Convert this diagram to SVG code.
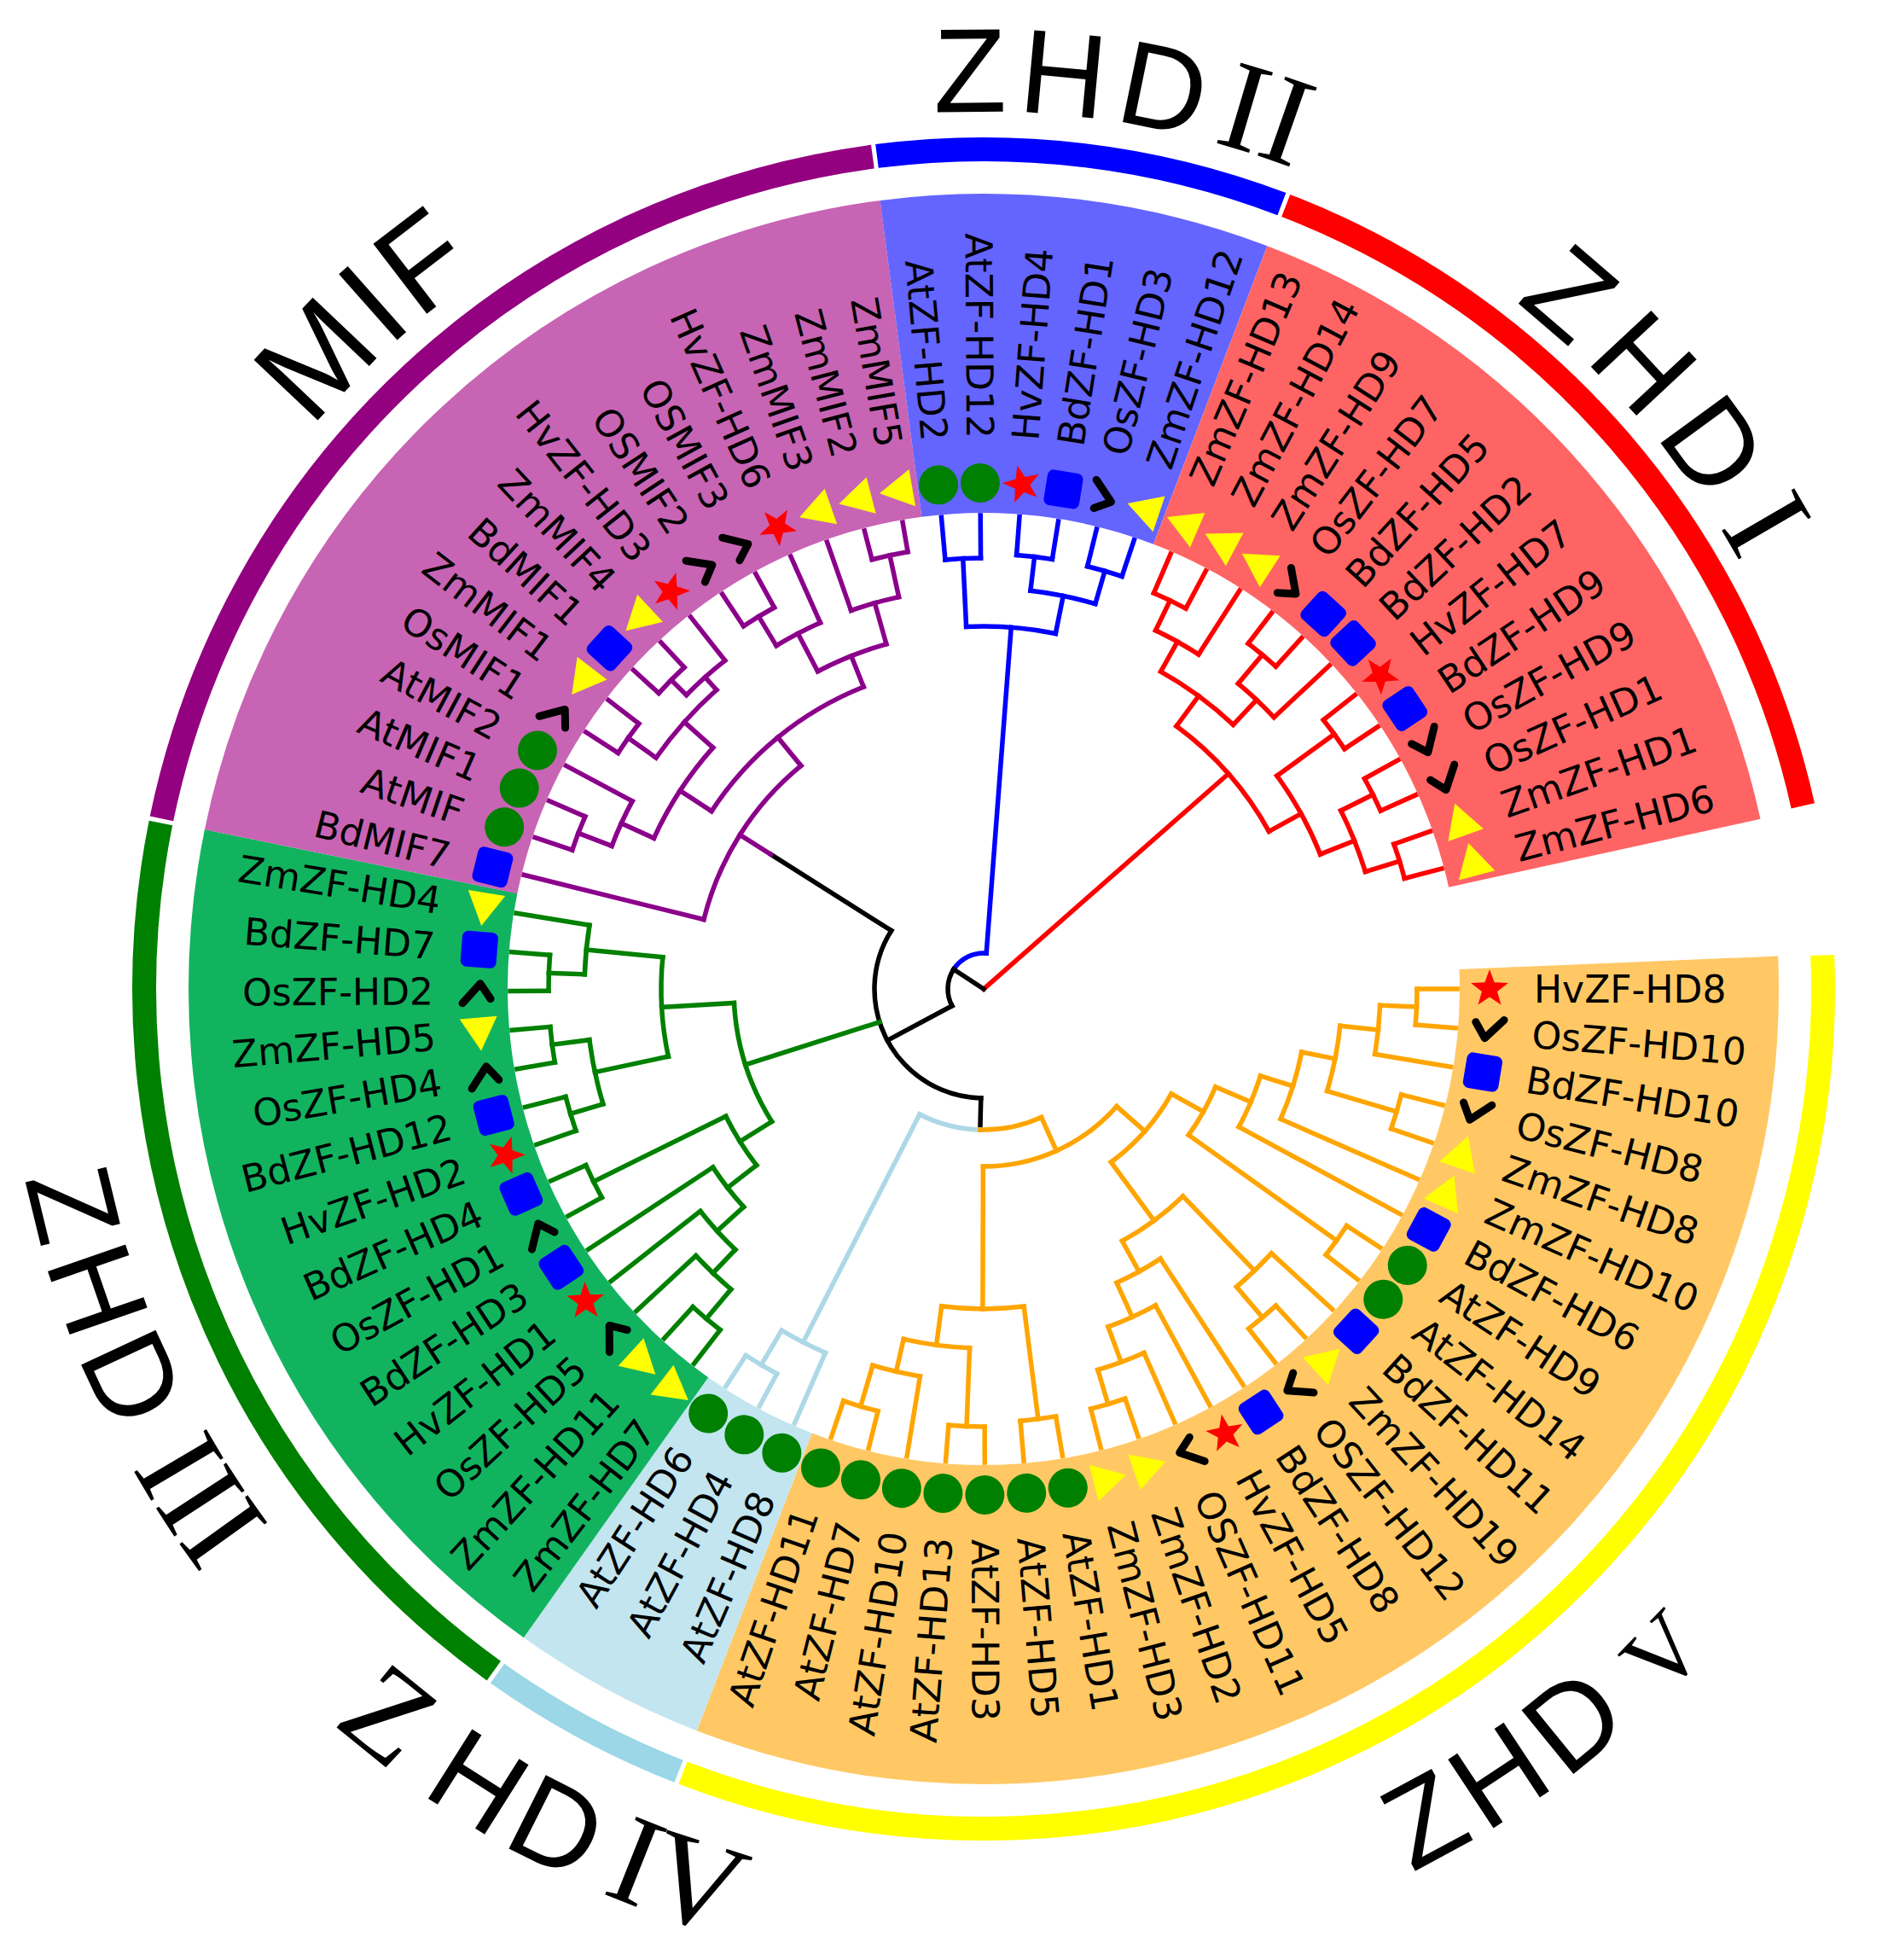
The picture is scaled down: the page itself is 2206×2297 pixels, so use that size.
<svg xmlns="http://www.w3.org/2000/svg" width="2206" height="2297" viewBox="0 0 2206 2297">
<style>
.lab{font-family:"DejaVu Sans",sans-serif;font-size:44px;fill:#000;dominant-baseline:central}
.l{text-anchor:end}
.t circle,.t line{fill:none;stroke-width:5.5;stroke-linecap:square}
.rd{stroke:#FF0000}.bl{stroke:#0000FF}.bk{stroke:#000}.pu{stroke:#8B008B}.gr{stroke:#008000}.lb{stroke:#ADD8E6}.or{stroke:#FFA500}
.clade{font-family:"Liberation Sans",Arial,sans-serif;font-size:140px;fill:#000}
.rom{font-family:"Liberation Serif","Times New Roman",serif}
</style>
<defs>
<circle id="cir" r="23" fill="#008000"/>
<rect id="sq" x="-21" y="-21" width="42" height="42" rx="7" fill="#0000FF"/>
<polygon id="tri" points="0,-21 -22,18 22,18" fill="#FFFF00"/>
<polygon id="star" points="0,-23 5.58,-7.69 21.87,-7.11 9.03,2.94 13.52,18.61 0,9.5 -13.52,18.61 -9.03,2.94 -21.87,-7.11 -5.58,-7.69" fill="#FF0000"/>
<polyline id="chev" points="-15,-9 -3,9 18,-14" fill="none" stroke="#000" stroke-width="9" stroke-linecap="round" stroke-linejoin="round"/>
<path id="cw1025" d="M2178,1159A1025,1025 0 1 1 128,1159A1025,1025 0 1 1 2178,1159"/>
<path id="cw1028" d="M2181,1159A1028,1028 0 1 1 125,1159A1028,1028 0 1 1 2181,1159"/>
<path id="cw1018" d="M2171,1159A1018,1018 0 1 1 135,1159A1018,1018 0 1 1 2171,1159"/>
<path id="ccw1145" d="M2298,1159A1145,1145 0 1 0 8,1159A1145,1145 0 1 0 2298,1159"/>
<path id="ccw1150" d="M2303,1159A1150,1150 0 1 0 3,1159A1150,1150 0 1 0 2303,1159"/>
</defs>
<rect width="2206" height="2297" fill="#fff"/>
<g transform="translate(1153,1159)">
<g id="sectors" fill="none" stroke-width="374">
<circle r="745" pathLength="360" stroke="#FFC864" stroke-dasharray="113.52 400" transform="rotate(-2.365)"/>
<circle r="745" pathLength="360" stroke="#C2E5F0" stroke-dasharray="14.19 400" transform="rotate(111.155)"/>
<circle r="745" pathLength="360" stroke="#12B35F" stroke-dasharray="66.22 400" transform="rotate(125.345)"/>
<circle r="745" pathLength="360" stroke="#C864B4" stroke-dasharray="70.95 400" transform="rotate(191.565)"/>
<circle r="745" pathLength="360" stroke="#6464FF" stroke-dasharray="28.38 400" transform="rotate(262.515)"/>
<circle r="745" pathLength="360" stroke="#FF6464" stroke-dasharray="56.76 400" transform="rotate(290.895)"/>
</g>
<g id="ring" fill="none" stroke-width="28">
<circle r="984" pathLength="360" stroke="#FFFF00" stroke-dasharray="113.3 400" transform="rotate(-2.3)"/>
<circle r="984" pathLength="360" stroke="#9BD7E6" stroke-dasharray="14.1 400" transform="rotate(111.3)"/>
<circle r="984" pathLength="360" stroke="#008000" stroke-dasharray="65.7 400" transform="rotate(125.7)"/>
<circle r="984" pathLength="360" stroke="#930080" stroke-dasharray="70.7 400" transform="rotate(191.7)"/>
<circle r="984" pathLength="360" stroke="#0000FF" stroke-dasharray="28.1 400" transform="rotate(262.7)"/>
<circle r="984" pathLength="360" stroke="#FF0000" stroke-dasharray="56.3 400" transform="rotate(291.1)"/>
</g>
<g id="connectors" class="t">
<g class="rd">
<line x2="382" transform="rotate(318.68)"/>
<circle r="382" pathLength="360" stroke-dasharray="24.83 400" transform="rotate(306.27)"/>
<line x1="382" x2="426" transform="rotate(306.27)"/><line x1="382" x2="425" transform="rotate(331.1)"/>
<circle r="426" pathLength="360" stroke-dasharray="14.19 400" transform="rotate(299.17)"/>
<line x1="426" x2="466" transform="rotate(299.17)"/><line x1="426" x2="466" transform="rotate(313.36)"/>
<circle r="466" pathLength="360" stroke-dasharray="7.09 400" transform="rotate(295.63)"/>
<line x1="466" x2="505" transform="rotate(295.63)"/><line x1="466" x2="555" transform="rotate(302.72)"/>
<circle r="505" pathLength="360" stroke-dasharray="4.73 400" transform="rotate(293.26)"/>
<line x1="505" x2="555" transform="rotate(293.26)"/><line x1="505" x2="555" transform="rotate(297.99)"/>
<circle r="466" pathLength="360" stroke-dasharray="7.09 400" transform="rotate(309.82)"/>
<line x1="466" x2="510" transform="rotate(309.82)"/><line x1="466" x2="555" transform="rotate(316.91)"/>
<circle r="510" pathLength="360" stroke-dasharray="4.73 400" transform="rotate(307.45)"/>
<line x1="510" x2="555" transform="rotate(307.45)"/><line x1="510" x2="555" transform="rotate(312.18)"/>
<circle r="425" pathLength="360" stroke-dasharray="14.2 400" transform="rotate(324)"/>
<line x1="425" x2="508" transform="rotate(324)"/><line x1="425" x2="468" transform="rotate(338.2)"/>
<circle r="508" pathLength="360" stroke-dasharray="4.73 400" transform="rotate(321.64)"/>
<line x1="508" x2="555" transform="rotate(321.64)"/><line x1="508" x2="555" transform="rotate(326.37)"/>
<circle r="468" pathLength="360" stroke-dasharray="9.46 400" transform="rotate(333.47)"/>
<line x1="468" x2="510" transform="rotate(333.47)"/><line x1="468" x2="510" transform="rotate(342.93)"/>
<circle r="510" pathLength="360" stroke-dasharray="4.73 400" transform="rotate(331.1)"/>
<line x1="510" x2="555" transform="rotate(331.1)"/><line x1="510" x2="555" transform="rotate(335.83)"/>
<circle r="510" pathLength="360" stroke-dasharray="4.73 400" transform="rotate(340.56)"/>
<line x1="510" x2="555" transform="rotate(340.56)"/><line x1="510" x2="555" transform="rotate(345.29)"/>
</g>
<g class="bl">
<circle r="42" pathLength="360" stroke-dasharray="61.24 400" transform="rotate(213.11)"/>
<line x1="42" x2="425" transform="rotate(274.35)"/>
<circle r="425" pathLength="360" stroke-dasharray="14.19 400" transform="rotate(267.25)"/>
<line x1="425" x2="505" transform="rotate(267.25)"/><line x1="425" x2="470" transform="rotate(281.44)"/>
<circle r="505" pathLength="360" stroke-dasharray="4.73 400" transform="rotate(264.88)"/>
<line x1="505" x2="555" transform="rotate(264.88)"/><line x1="505" x2="555" transform="rotate(269.61)"/>
<circle r="470" pathLength="360" stroke-dasharray="9.46 400" transform="rotate(276.71)"/>
<line x1="470" x2="510" transform="rotate(276.71)"/><line x1="470" x2="510" transform="rotate(286.17)"/>
<circle r="510" pathLength="360" stroke-dasharray="4.73 400" transform="rotate(274.34)"/>
<line x1="510" x2="555" transform="rotate(274.34)"/><line x1="510" x2="555" transform="rotate(279.07)"/>
<circle r="510" pathLength="360" stroke-dasharray="4.73 400" transform="rotate(283.8)"/>
<line x1="510" x2="555" transform="rotate(283.8)"/><line x1="510" x2="555" transform="rotate(288.53)"/>
</g>
<g class="bk">
<line x2="42" transform="rotate(213.11)"/>
<circle r="42" pathLength="360" stroke-dasharray="61.24 400" transform="rotate(151.87)"/>
<line x1="42" x2="128" transform="rotate(151.87)"/>
<circle r="128" pathLength="360" stroke-dasharray="120.87 400" transform="rotate(91.43)"/>
<line x1="128" x2="295" transform="rotate(212.3)"/>
<line x1="128" x2="165" transform="rotate(91.43)"/>
</g>
<g class="pu">
<line x1="295" x2="338" transform="rotate(212.3)"/>
<circle r="338" pathLength="360" stroke-dasharray="36.77 400" transform="rotate(193.93)"/>
<line x1="338" x2="555" transform="rotate(193.93)"/><line x1="338" x2="381" transform="rotate(230.7)"/>
<circle r="381" pathLength="360" stroke-dasharray="35.17 400" transform="rotate(213.15)"/>
<line x1="381" x2="425" transform="rotate(213.15)"/><line x1="381" x2="420" transform="rotate(248.32)"/>
<circle r="420" pathLength="360" stroke-dasharray="11.83 400" transform="rotate(242.41)"/>
<line x1="420" x2="470" transform="rotate(242.41)"/><line x1="420" x2="470" transform="rotate(254.24)"/>
<circle r="470" pathLength="360" stroke-dasharray="7.095 400" transform="rotate(238.865)"/>
<line x1="470" x2="510" transform="rotate(238.865)"/><line x1="470" x2="555" transform="rotate(245.96)"/>
<circle r="510" pathLength="360" stroke-dasharray="4.73 400" transform="rotate(236.5)"/>
<line x1="510" x2="555" transform="rotate(236.5)"/><line x1="510" x2="555" transform="rotate(241.23)"/>
<circle r="470" pathLength="360" stroke-dasharray="7.095 400" transform="rotate(250.69)"/>
<line x1="470" x2="555" transform="rotate(250.69)"/><line x1="470" x2="520" transform="rotate(257.785)"/>
<circle r="520" pathLength="360" stroke-dasharray="4.73 400" transform="rotate(255.42)"/>
<line x1="520" x2="555" transform="rotate(255.42)"/><line x1="520" x2="555" transform="rotate(260.15)"/>
<circle r="425" pathLength="360" stroke-dasharray="17.15 400" transform="rotate(204.57)"/>
<line x1="425" x2="467" transform="rotate(204.57)"/><line x1="425" x2="470" transform="rotate(221.72)"/>
<circle r="467" pathLength="360" stroke-dasharray="7.095 400" transform="rotate(201.025)"/>
<line x1="467" x2="509" transform="rotate(201.025)"/><line x1="467" x2="555" transform="rotate(208.12)"/>
<circle r="509" pathLength="360" stroke-dasharray="4.73 400" transform="rotate(198.66)"/>
<line x1="509" x2="555" transform="rotate(198.66)"/><line x1="509" x2="555" transform="rotate(203.39)"/>
<circle r="470" pathLength="360" stroke-dasharray="13.005 400" transform="rotate(215.215)"/>
<line x1="470" x2="510" transform="rotate(215.215)"/><line x1="470" x2="490" transform="rotate(228.22)"/>
<circle r="510" pathLength="360" stroke-dasharray="4.73 400" transform="rotate(212.85)"/>
<line x1="510" x2="555" transform="rotate(212.85)"/><line x1="510" x2="555" transform="rotate(217.58)"/>
<circle r="490" pathLength="360" stroke-dasharray="7.095 400" transform="rotate(224.675)"/>
<line x1="490" x2="515" transform="rotate(224.675)"/><line x1="490" x2="555" transform="rotate(231.77)"/>
<circle r="515" pathLength="360" stroke-dasharray="4.73 400" transform="rotate(222.31)"/>
<line x1="515" x2="555" transform="rotate(222.31)"/><line x1="515" x2="555" transform="rotate(227.04)"/>
</g>
<g class="gr">
<line x1="128" x2="293" transform="rotate(162.37)"/>
<circle r="293" pathLength="360" stroke-dasharray="28.82 400" transform="rotate(147.96)"/>
<line x1="293" x2="378" transform="rotate(176.78)"/><line x1="293" x2="337" transform="rotate(147.96)"/>
<circle r="378" pathLength="360" stroke-dasharray="17.735 400" transform="rotate(167.915)"/>
<line x1="378" x2="468" transform="rotate(185.65)"/><line x1="378" x2="466" transform="rotate(167.915)"/>
<circle r="468" pathLength="360" stroke-dasharray="7.095 400" transform="rotate(182.105)"/>
<line x1="468" x2="510" transform="rotate(182.105)"/><line x1="468" x2="555" transform="rotate(189.2)"/>
<circle r="510" pathLength="360" stroke-dasharray="4.73 400" transform="rotate(179.74)"/>
<line x1="510" x2="555" transform="rotate(179.74)"/><line x1="510" x2="555" transform="rotate(184.47)"/>
<circle r="466" pathLength="360" stroke-dasharray="9.46 400" transform="rotate(163.185)"/>
<line x1="466" x2="510" transform="rotate(172.645)"/><line x1="466" x2="506" transform="rotate(163.185)"/>
<circle r="510" pathLength="360" stroke-dasharray="4.73 400" transform="rotate(170.28)"/>
<line x1="510" x2="555" transform="rotate(170.28)"/><line x1="510" x2="555" transform="rotate(175.01)"/>
<circle r="506" pathLength="360" stroke-dasharray="4.73 400" transform="rotate(160.82)"/>
<line x1="506" x2="555" transform="rotate(160.82)"/><line x1="506" x2="555" transform="rotate(165.55)"/>
<circle r="337" pathLength="360" stroke-dasharray="11.53 400" transform="rotate(142.195)"/>
<line x1="337" x2="510" transform="rotate(153.725)"/><line x1="337" x2="380" transform="rotate(142.195)"/>
<circle r="510" pathLength="360" stroke-dasharray="4.73 400" transform="rotate(151.36)"/>
<line x1="510" x2="555" transform="rotate(151.36)"/><line x1="510" x2="555" transform="rotate(156.09)"/>
<circle r="380" pathLength="360" stroke-dasharray="8.87 400" transform="rotate(137.76)"/>
<line x1="380" x2="555" transform="rotate(146.63)"/><line x1="380" x2="422" transform="rotate(137.76)"/>
<circle r="422" pathLength="360" stroke-dasharray="8.28 400" transform="rotate(133.62)"/>
<line x1="422" x2="555" transform="rotate(141.9)"/><line x1="422" x2="460" transform="rotate(133.62)"/>
<circle r="460" pathLength="360" stroke-dasharray="7.095 400" transform="rotate(130.075)"/>
<line x1="460" x2="555" transform="rotate(137.17)"/><line x1="460" x2="505" transform="rotate(130.075)"/>
<circle r="505" pathLength="360" stroke-dasharray="4.73 400" transform="rotate(127.71)"/>
<line x1="505" x2="555" transform="rotate(127.71)"/><line x1="505" x2="555" transform="rotate(132.44)"/>
</g>
<g class="lb">
<circle r="165" pathLength="360" stroke-dasharray="25.64 400" transform="rotate(91.43)"/>
<line x1="165" x2="465" transform="rotate(117.07)"/>
<circle r="465" pathLength="360" stroke-dasharray="7.095 400" transform="rotate(113.52)"/>
<line x1="465" x2="555" transform="rotate(113.52)"/><line x1="465" x2="512" transform="rotate(120.615)"/>
<circle r="512" pathLength="360" stroke-dasharray="4.73 400" transform="rotate(118.25)"/>
<line x1="512" x2="555" transform="rotate(118.25)"/><line x1="512" x2="555" transform="rotate(122.98)"/>
</g>
<g class="or">
<circle r="165" pathLength="360" stroke-dasharray="25.63 400" transform="rotate(65.8)"/>
<line x1="165" x2="208" transform="rotate(65.8)"/>
<circle r="208" pathLength="360" stroke-dasharray="48.74 400" transform="rotate(41.43)"/>
<line x1="208" x2="252" transform="rotate(41.43)"/><line x1="208" x2="375" transform="rotate(90.17)"/>
<circle r="252" pathLength="360" stroke-dasharray="24.47 400" transform="rotate(29.19)"/>
<line x1="252" x2="295" transform="rotate(29.19)"/><line x1="252" x2="337" transform="rotate(53.66)"/>
<circle r="295" pathLength="360" stroke-dasharray="12.565 400" transform="rotate(22.91)"/>
<line x1="295" x2="340" transform="rotate(22.91)"/><line x1="295" x2="508" transform="rotate(35.475)"/>
<circle r="508" pathLength="360" stroke-dasharray="4.73 400" transform="rotate(33.11)"/>
<line x1="508" x2="555" transform="rotate(33.11)"/><line x1="508" x2="555" transform="rotate(37.84)"/>
<circle r="340" pathLength="360" stroke-dasharray="10.94 400" transform="rotate(17.44)"/>
<line x1="340" x2="555" transform="rotate(28.38)"/><line x1="340" x2="380" transform="rotate(17.44)"/>
<circle r="380" pathLength="360" stroke-dasharray="12.42 400" transform="rotate(11.23)"/>
<line x1="380" x2="555" transform="rotate(23.65)"/><line x1="380" x2="420" transform="rotate(11.23)"/>
<circle r="420" pathLength="360" stroke-dasharray="10.645 400" transform="rotate(5.91)"/>
<line x1="420" x2="505" transform="rotate(16.555)"/><line x1="420" x2="465" transform="rotate(5.91)"/>
<circle r="505" pathLength="360" stroke-dasharray="4.73 400" transform="rotate(14.19)"/>
<line x1="505" x2="555" transform="rotate(14.19)"/><line x1="505" x2="555" transform="rotate(18.92)"/>
<circle r="465" pathLength="360" stroke-dasharray="7.095 400" transform="rotate(2.365)"/>
<line x1="465" x2="555" transform="rotate(9.46)"/><line x1="465" x2="508" transform="rotate(2.365)"/>
<circle r="508" pathLength="360" stroke-dasharray="4.73 400"/>
<line x1="508" x2="555"/><line x1="508" x2="555" transform="rotate(4.73)"/>
<circle r="337" pathLength="360" stroke-dasharray="15.08 400" transform="rotate(46.12)"/>
<line x1="337" x2="458" transform="rotate(46.12)"/><line x1="337" x2="378" transform="rotate(61.2)"/>
<circle r="458" pathLength="360" stroke-dasharray="7.1 400" transform="rotate(42.57)"/>
<line x1="458" x2="555" transform="rotate(42.57)"/><line x1="458" x2="505" transform="rotate(49.67)"/>
<circle r="505" pathLength="360" stroke-dasharray="4.73 400" transform="rotate(47.3)"/>
<line x1="505" x2="555" transform="rotate(47.3)"/><line x1="505" x2="555" transform="rotate(52.03)"/>
<circle r="378" pathLength="360" stroke-dasharray="8.87 400" transform="rotate(56.76)"/>
<line x1="378" x2="555" transform="rotate(56.76)"/><line x1="378" x2="422" transform="rotate(65.63)"/>
<circle r="422" pathLength="360" stroke-dasharray="8.28 400" transform="rotate(61.49)"/>
<line x1="422" x2="555" transform="rotate(61.49)"/><line x1="422" x2="466" transform="rotate(69.77)"/>
<circle r="466" pathLength="360" stroke-dasharray="7.095 400" transform="rotate(66.22)"/>
<line x1="466" x2="555" transform="rotate(66.22)"/><line x1="466" x2="508" transform="rotate(73.315)"/>
<circle r="508" pathLength="360" stroke-dasharray="4.73 400" transform="rotate(70.95)"/>
<line x1="508" x2="555" transform="rotate(70.95)"/><line x1="508" x2="555" transform="rotate(75.68)"/>
<circle r="375" pathLength="360" stroke-dasharray="14.785 400" transform="rotate(82.775)"/>
<line x1="375" x2="508" transform="rotate(82.775)"/><line x1="375" x2="421" transform="rotate(97.56)"/>
<circle r="508" pathLength="360" stroke-dasharray="4.73 400" transform="rotate(80.41)"/>
<line x1="508" x2="555" transform="rotate(80.41)"/><line x1="508" x2="555" transform="rotate(85.14)"/>
<circle r="421" pathLength="360" stroke-dasharray="10.645 400" transform="rotate(92.235)"/>
<line x1="421" x2="513" transform="rotate(92.235)"/><line x1="421" x2="460" transform="rotate(102.88)"/>
<circle r="513" pathLength="360" stroke-dasharray="4.73 400" transform="rotate(89.87)"/>
<line x1="513" x2="555" transform="rotate(89.87)"/><line x1="513" x2="555" transform="rotate(94.6)"/>
<circle r="460" pathLength="360" stroke-dasharray="7.095 400" transform="rotate(99.33)"/>
<line x1="460" x2="555" transform="rotate(99.33)"/><line x1="460" x2="510" transform="rotate(106.425)"/>
<circle r="510" pathLength="360" stroke-dasharray="4.73 400" transform="rotate(104.06)"/>
<line x1="510" x2="555" transform="rotate(104.06)"/><line x1="510" x2="555" transform="rotate(108.79)"/>
</g>
</g>
<g id="leaves">
<g id="n0"><use href="#star" transform="rotate(0) translate(593)"/><text class="lab" x="645">HvZF-HD8</text></g>
<g id="n1"><use href="#chev" transform="rotate(4.73) translate(593)"/><text class="lab" x="645" transform="rotate(4.73)">OsZF-HD10</text></g>
<g id="n2"><use href="#sq" transform="rotate(9.46) translate(593)"/><text class="lab" x="645" transform="rotate(9.46)">BdZF-HD10</text></g>
<g id="n3"><use href="#chev" transform="rotate(14.19) translate(593)"/><text class="lab" x="645" transform="rotate(14.19)">OsZF-HD8</text></g>
<g id="n4"><use href="#tri" transform="rotate(18.92) translate(593)"/><text class="lab" x="645" transform="rotate(18.92)">ZmZF-HD8</text></g>
<g id="n5"><use href="#tri" transform="rotate(23.65) translate(593)"/><text class="lab" x="645" transform="rotate(23.65)">ZmZF-HD10</text></g>
<g id="n6"><use href="#sq" transform="rotate(28.38) translate(593)"/><text class="lab" x="645" transform="rotate(28.38)">BdZF-HD6</text></g>
<g id="n7"><use href="#cir" transform="rotate(33.11) translate(593)"/><text class="lab" x="645" transform="rotate(33.11)">AtZF-HD9</text></g>
<g id="n8"><use href="#cir" transform="rotate(37.84) translate(593)"/><text class="lab" x="645" transform="rotate(37.84)">AtZF-HD14</text></g>
<g id="n9"><use href="#sq" transform="rotate(42.57) translate(593)"/><text class="lab" x="645" transform="rotate(42.57)">BdZF-HD11</text></g>
<g id="n10"><use href="#tri" transform="rotate(47.3) translate(593)"/><text class="lab" x="645" transform="rotate(47.3)">ZmZF-HD19</text></g>
<g id="n11"><use href="#chev" transform="rotate(52.03) translate(593)"/><text class="lab" x="645" transform="rotate(52.03)">OSZF-HD12</text></g>
<g id="n12"><use href="#sq" transform="rotate(56.76) translate(593)"/><text class="lab" x="645" transform="rotate(56.76)">BdZF-HD8</text></g>
<g id="n13"><use href="#star" transform="rotate(61.49) translate(593)"/><text class="lab" x="645" transform="rotate(61.49)">HvZF-HD5</text></g>
<g id="n14"><use href="#chev" transform="rotate(66.22) translate(593)"/><text class="lab" x="645" transform="rotate(66.22)">OSZF-HD11</text></g>
<g id="n15"><use href="#tri" transform="rotate(70.95) translate(593)"/><text class="lab" x="645" transform="rotate(70.95)">ZmZF-HD2</text></g>
<g id="n16"><use href="#tri" transform="rotate(75.68) translate(593)"/><text class="lab" x="645" transform="rotate(75.68)">ZmZF-HD3</text></g>
<g id="n17"><use href="#cir" transform="rotate(80.41) translate(593)"/><text class="lab" x="645" transform="rotate(80.41)">AtZF-HD1</text></g>
<g id="n18"><use href="#cir" transform="rotate(85.14) translate(593)"/><text class="lab" x="645" transform="rotate(85.14)">AtZF-HD5</text></g>
<g id="n19"><use href="#cir" transform="rotate(89.87) translate(593)"/><text class="lab" x="645" transform="rotate(89.87)">AtZF-HD3</text></g>
<g id="n20"><use href="#cir" transform="rotate(94.6) translate(593)"/><text class="lab l" x="-645" transform="rotate(-85.4)">AtZF-HD13</text></g>
<g id="n21"><use href="#cir" transform="rotate(99.33) translate(593)"/><text class="lab l" x="-645" transform="rotate(-80.67)">AtZF-HD10</text></g>
<g id="n22"><use href="#cir" transform="rotate(104.06) translate(593)"/><text class="lab l" x="-645" transform="rotate(-75.94)">AtZF-HD7</text></g>
<g id="n23"><use href="#cir" transform="rotate(108.79) translate(593)"/><text class="lab l" x="-645" transform="rotate(-71.21)">AtZF-HD11</text></g>
<g id="n24"><use href="#cir" transform="rotate(113.52) translate(593)"/><text class="lab l" x="-645" transform="rotate(-66.48)">AtZF-HD8</text></g>
<g id="n25"><use href="#cir" transform="rotate(118.25) translate(593)"/><text class="lab l" x="-645" transform="rotate(-61.75)">AtZF-HD4</text></g>
<g id="n26"><use href="#cir" transform="rotate(122.98) translate(593)"/><text class="lab l" x="-645" transform="rotate(-57.02)">AtZF-HD6</text></g>
<g id="n27"><use href="#tri" transform="rotate(127.71) translate(593)"/><text class="lab l" x="-645" transform="rotate(-52.29)">ZmZF-HD7</text></g>
<g id="n28"><use href="#tri" transform="rotate(132.44) translate(593)"/><text class="lab l" x="-645" transform="rotate(-47.56)">ZmZF-HD11</text></g>
<g id="n29"><use href="#chev" transform="rotate(137.17) translate(593)"/><text class="lab l" x="-645" transform="rotate(-42.83)">OsZF-HD5</text></g>
<g id="n30"><use href="#star" transform="rotate(141.9) translate(593)"/><text class="lab l" x="-645" transform="rotate(-38.1)">HvZF-HD1</text></g>
<g id="n31"><use href="#sq" transform="rotate(146.63) translate(593)"/><text class="lab l" x="-645" transform="rotate(-33.37)">BdZF-HD3</text></g>
<g id="n32"><use href="#chev" transform="rotate(151.36) translate(593)"/><text class="lab l" x="-645" transform="rotate(-28.64)">OsZF-HD1</text></g>
<g id="n33"><use href="#sq" transform="rotate(156.09) translate(593)"/><text class="lab l" x="-645" transform="rotate(-23.91)">BdZF-HD4</text></g>
<g id="n34"><use href="#star" transform="rotate(160.82) translate(593)"/><text class="lab l" x="-645" transform="rotate(-19.18)">HvZF-HD2</text></g>
<g id="n35"><use href="#sq" transform="rotate(165.55) translate(593)"/><text class="lab l" x="-645" transform="rotate(-14.45)">BdZF-HD12</text></g>
<g id="n36"><use href="#chev" transform="rotate(170.28) translate(593)"/><text class="lab l" x="-645" transform="rotate(-9.72)">OsZF-HD4</text></g>
<g id="n37"><use href="#tri" transform="rotate(175.01) translate(593)"/><text class="lab l" x="-645" transform="rotate(-4.99)">ZmZF-HD5</text></g>
<g id="n38"><use href="#chev" transform="rotate(179.74) translate(593)"/><text class="lab l" x="-645" transform="rotate(-0.26)">OsZF-HD2</text></g>
<g id="n39"><use href="#sq" transform="rotate(184.47) translate(593)"/><text class="lab l" x="-645" transform="rotate(4.47)">BdZF-HD7</text></g>
<g id="n40"><use href="#tri" transform="rotate(189.2) translate(593)"/><text class="lab l" x="-645" transform="rotate(9.2)">ZmZF-HD4</text></g>
<g id="n41"><use href="#sq" transform="rotate(193.93) translate(593)"/><text class="lab l" x="-645" transform="rotate(13.93)">BdMIF7</text></g>
<g id="n42"><use href="#cir" transform="rotate(198.66) translate(593)"/><text class="lab l" x="-645" transform="rotate(18.66)">AtMIF</text></g>
<g id="n43"><use href="#cir" transform="rotate(203.39) translate(593)"/><text class="lab l" x="-645" transform="rotate(23.39)">AtMIF1</text></g>
<g id="n44"><use href="#cir" transform="rotate(208.12) translate(593)"/><text class="lab l" x="-645" transform="rotate(28.12)">AtMIF2</text></g>
<g id="n45"><use href="#chev" transform="rotate(212.85) translate(593)"/><text class="lab l" x="-645" transform="rotate(32.85)">OsMIF1</text></g>
<g id="n46"><use href="#tri" transform="rotate(217.58) translate(593)"/><text class="lab l" x="-645" transform="rotate(37.58)">ZmMIF1</text></g>
<g id="n47"><use href="#sq" transform="rotate(222.31) translate(593)"/><text class="lab l" x="-645" transform="rotate(42.31)">BdMIF1</text></g>
<g id="n48"><use href="#tri" transform="rotate(227.04) translate(593)"/><text class="lab l" x="-645" transform="rotate(47.04)">ZmMIF4</text></g>
<g id="n49"><use href="#star" transform="rotate(231.77) translate(593)"/><text class="lab l" x="-645" transform="rotate(51.77)">HvZF-HD3</text></g>
<g id="n50"><use href="#chev" transform="rotate(236.5) translate(593)"/><text class="lab l" x="-645" transform="rotate(56.5)">OSMIF2</text></g>
<g id="n51"><use href="#chev" transform="rotate(241.23) translate(593)"/><text class="lab l" x="-645" transform="rotate(61.23)">OSMIF3</text></g>
<g id="n52"><use href="#star" transform="rotate(245.96) translate(593)"/><text class="lab l" x="-645" transform="rotate(65.96)">HvZF-HD6</text></g>
<g id="n53"><use href="#tri" transform="rotate(250.69) translate(593)"/><text class="lab l" x="-645" transform="rotate(70.69)">ZmMIF3</text></g>
<g id="n54"><use href="#tri" transform="rotate(255.42) translate(593)"/><text class="lab l" x="-645" transform="rotate(75.42)">ZmMIF2</text></g>
<g id="n55"><use href="#tri" transform="rotate(260.15) translate(593)"/><text class="lab l" x="-645" transform="rotate(80.15)">ZmMIF5</text></g>
<g id="n56"><use href="#cir" transform="rotate(264.88) translate(593)"/><text class="lab l" x="-645" transform="rotate(84.88)">AtZF-HD2</text></g>
<g id="n57"><use href="#cir" transform="rotate(269.61) translate(593)"/><text class="lab l" x="-645" transform="rotate(89.61)">AtZF-HD12</text></g>
<g id="n58"><use href="#star" transform="rotate(274.34) translate(593)"/><text class="lab" x="645" transform="rotate(274.34)">HvZF-HD4</text></g>
<g id="n59"><use href="#sq" transform="rotate(279.07) translate(593)"/><text class="lab" x="645" transform="rotate(279.07)">BdZF-HD1</text></g>
<g id="n60"><use href="#chev" transform="rotate(283.8) translate(593)"/><text class="lab" x="645" transform="rotate(283.8)">OsZF-HD3</text></g>
<g id="n61"><use href="#tri" transform="rotate(288.53) translate(593)"/><text class="lab" x="645" transform="rotate(288.53)">ZmZF-HD12</text></g>
<g id="n62"><use href="#tri" transform="rotate(293.26) translate(593)"/><text class="lab" x="645" transform="rotate(293.26)">ZmZF-HD13</text></g>
<g id="n63"><use href="#tri" transform="rotate(297.99) translate(593)"/><text class="lab" x="645" transform="rotate(297.99)">ZmZF-HD14</text></g>
<g id="n64"><use href="#tri" transform="rotate(302.72) translate(593)"/><text class="lab" x="645" transform="rotate(302.72)">ZmZF-HD9</text></g>
<g id="n65"><use href="#chev" transform="rotate(307.45) translate(593)"/><text class="lab" x="645" transform="rotate(307.45)">OsZF-HD7</text></g>
<g id="n66"><use href="#sq" transform="rotate(312.18) translate(593)"/><text class="lab" x="645" transform="rotate(312.18)">BdZF-HD5</text></g>
<g id="n67"><use href="#sq" transform="rotate(316.91) translate(593)"/><text class="lab" x="645" transform="rotate(316.91)">BdZF-HD2</text></g>
<g id="n68"><use href="#star" transform="rotate(321.64) translate(593)"/><text class="lab" x="645" transform="rotate(321.64)">HvZF-HD7</text></g>
<g id="n69"><use href="#sq" transform="rotate(326.37) translate(593)"/><text class="lab" x="645" transform="rotate(326.37)">BdZF-HD9</text></g>
<g id="n70"><use href="#chev" transform="rotate(331.1) translate(593)"/><text class="lab" x="645" transform="rotate(331.1)">OsZF-HD9</text></g>
<g id="n71"><use href="#chev" transform="rotate(335.83) translate(593)"/><text class="lab" x="645" transform="rotate(335.83)">OsZF-HD1</text></g>
<g id="n72"><use href="#tri" transform="rotate(340.56) translate(593)"/><text class="lab" x="645" transform="rotate(340.56)">ZmZF-HD1</text></g>
<g id="n73"><use href="#tri" transform="rotate(345.29) translate(593)"/><text class="lab" x="645" transform="rotate(345.29)">ZmZF-HD6</text></g>
</g>
</g>
<g id="clades" class="clade">
<text id="c-mif" font-size="150" letter-spacing="6"><textPath href="#cw1025" startOffset="63.2%" text-anchor="middle">MIF</textPath></text>
<text id="c-zhd2" letter-spacing="12"><textPath href="#cw1028" startOffset="77.42%" text-anchor="middle">ZHD<tspan class="rom" font-size="150" letter-spacing="0" dx="6">II</tspan></textPath></text>
<text id="c-zhd1" letter-spacing="20"><textPath href="#cw1018" startOffset="88.82%" text-anchor="middle">ZHD<tspan class="rom" font-size="150" dx="10">I</tspan></textPath></text>
<text id="c-zhd3" letter-spacing="15"><textPath href="#ccw1145" startOffset="56.67%" text-anchor="middle">ZHD<tspan class="rom" font-size="150" letter-spacing="0" dx="30">III</tspan></textPath></text>
<text id="c-zhd4" letter-spacing="10"><textPath href="#ccw1150" startOffset="67.13%" text-anchor="middle"><tspan class="rom" font-size="150">Z</tspan><tspan dx="30">HD</tspan><tspan class="rom" font-size="150" letter-spacing="0" dx="20">IV</tspan></textPath></text>
<text id="c-zhd5" letter-spacing="12"><textPath href="#ccw1150" startOffset="85.3%" text-anchor="middle">ZHD<tspan class="rom" font-size="112" dx="34">V</tspan></textPath></text>
</g>
</svg>
